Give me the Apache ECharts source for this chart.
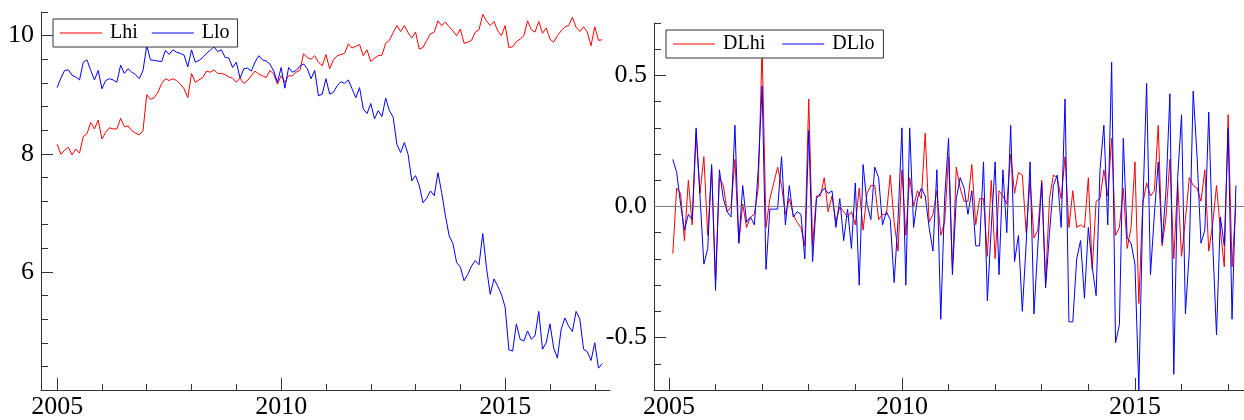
<!DOCTYPE html>
<html>
<head>
<meta charset="utf-8">
<script src="https://cdn.jsdelivr.net/npm/echarts@6/dist/echarts.min.js"></script>
<style>
html,body{margin:0;padding:0;background:#fff;}
#c{width:1244px;height:420px;}
</style>
</head>
<body>
<div id="c"></div>
<script>
// ---- data (monthly, starting Jan 2005) ----
const startYear = 2005;
const Lhi = [8.16,7.99,8.06,8.11,7.98,8.08,8.01,8.29,8.34,8.53,8.42,8.57,8.25,8.36,8.44,8.42,8.42,8.60,8.46,8.47,8.39,8.35,8.32,8.39,
9.00,8.92,8.95,9.04,9.19,9.27,9.24,9.27,9.24,9.18,9.10,8.95,9.36,9.21,9.25,9.29,9.40,9.38,9.42,9.36,9.36,9.34,9.30,9.28,
9.21,9.28,9.19,9.24,9.32,9.40,9.35,9.32,9.29,9.41,9.35,9.18,9.32,9.21,9.32,9.32,9.38,9.41,9.69,9.63,9.60,9.66,9.55,9.49,
9.68,9.44,9.59,9.66,9.68,9.70,9.86,9.79,9.82,9.85,9.66,9.76,9.56,9.62,9.66,9.67,9.87,9.92,10.05,10.17,10.07,10.17,10.05,9.96,
10.06,9.77,9.80,9.92,10.03,10.06,10.25,10.17,10.23,10.15,10.08,10.00,10.11,9.87,9.89,9.92,10.06,10.10,10.36,10.25,10.17,10.24,10.08,10.00,
10.17,9.80,9.81,9.90,9.94,10.00,10.25,10.10,10.06,10.24,10.04,10.13,9.94,9.89,10.00,10.08,10.15,10.17,10.31,10.14,10.07,10.15,10.06,9.83,
10.15,9.92,9.93];
const Llo = [9.12,9.28,9.41,9.42,9.33,9.30,9.25,9.55,9.59,9.41,9.25,9.41,9.10,9.24,9.27,9.25,9.21,9.50,9.36,9.44,9.38,9.34,9.27,9.41,
9.83,9.59,9.58,9.57,9.56,9.75,9.68,9.76,9.72,9.70,9.67,9.47,9.76,9.55,9.58,9.63,9.70,9.75,9.81,9.73,9.76,9.63,9.62,9.46,
9.55,9.28,9.44,9.45,9.40,9.55,9.66,9.59,9.57,9.52,9.40,9.21,9.46,9.11,9.46,9.38,9.41,9.48,9.52,9.44,9.27,9.41,8.98,9.01,
9.27,9.01,9.04,9.15,9.22,9.19,9.25,9.10,8.95,9.12,8.76,8.68,8.85,8.59,8.73,8.63,8.94,8.73,8.62,8.16,8.02,8.19,7.99,7.54,
7.63,7.46,7.17,7.25,7.37,7.29,7.68,7.34,6.95,6.61,6.48,6.16,6.08,5.85,5.96,6.10,6.19,6.12,6.65,6.07,5.62,5.88,5.76,5.62,
5.40,4.68,4.66,5.12,4.86,4.83,5.00,4.86,4.92,5.33,4.69,4.80,5.12,4.71,4.54,5.03,5.22,5.08,4.99,5.33,5.20,4.69,4.65,4.50,
4.80,4.37,4.45];
// monthly differences, starting Feb 2005
const DLhi = [-0.18,0.07,0.05,-0.13,0.10,-0.07,0.28,0.05,0.19,-0.11,0.15,-0.28,0.11,0.08,-0.02,0.00,0.18,-0.14,0.01,-0.08,-0.04,-0.03,0.07,
0.61,-0.08,0.03,0.09,0.15,0.08,-0.03,0.03,-0.03,-0.06,-0.08,-0.15,0.41,-0.15,0.04,0.04,0.11,-0.02,0.04,-0.06,0.00,-0.02,-0.04,-0.02,
-0.07,0.07,-0.09,0.05,0.08,0.08,-0.05,-0.03,-0.03,0.12,-0.06,-0.17,0.14,-0.11,0.11,0.00,0.06,0.03,0.28,-0.06,-0.03,0.06,-0.11,-0.06,
0.19,-0.24,0.15,0.07,0.02,0.02,0.16,-0.07,0.03,0.03,-0.19,0.10,-0.20,0.06,0.04,0.01,0.20,0.05,0.13,0.12,-0.10,0.10,-0.12,-0.09,
0.10,-0.29,0.03,0.12,0.11,0.03,0.19,-0.08,0.06,-0.08,-0.07,-0.08,0.11,-0.24,0.02,0.03,0.14,0.04,0.26,-0.11,-0.08,0.07,-0.16,-0.08,
0.17,-0.37,0.01,0.09,0.04,0.06,0.31,-0.15,-0.04,0.18,-0.20,0.09,-0.19,-0.05,0.11,0.08,0.07,0.02,0.14,-0.17,-0.07,0.08,-0.09,-0.23,
0.35,-0.23,0.01];
const DLlo = [0.18,0.13,0.01,-0.09,-0.03,-0.05,0.30,0.04,-0.22,-0.16,0.16,-0.32,0.14,0.03,-0.02,-0.04,0.31,-0.14,0.08,-0.06,-0.04,-0.07,0.14,
0.46,-0.24,-0.01,-0.01,-0.01,0.19,-0.07,0.08,-0.04,-0.02,-0.03,-0.20,0.29,-0.21,0.03,0.05,0.07,0.05,0.06,-0.08,0.03,-0.13,-0.01,-0.16,
0.09,-0.30,0.16,0.01,-0.05,0.15,0.11,-0.07,-0.02,-0.05,-0.29,-0.05,0.30,-0.30,0.30,-0.08,0.03,0.07,0.04,-0.08,-0.17,0.14,-0.43,0.03,
0.26,-0.26,0.03,0.11,0.07,-0.03,0.06,-0.15,-0.15,0.17,-0.36,-0.08,0.17,-0.26,0.14,-0.10,0.31,-0.21,-0.11,-0.40,-0.14,0.17,-0.41,-0.15,
0.09,-0.31,-0.10,0.08,0.12,-0.08,0.41,-0.44,-0.44,-0.20,-0.13,-0.35,-0.08,-0.23,-0.34,0.14,0.31,-0.07,0.55,-0.52,-0.45,0.26,-0.12,-0.14,
-0.22,-0.70,-0.02,0.47,-0.26,-0.03,0.17,-0.14,0.06,0.43,-0.64,0.11,0.35,-0.41,-0.17,0.44,0.19,-0.14,-0.09,0.36,-0.13,-0.49,-0.04,-0.15,
0.30,-0.43,0.08];
// tick values / labels
const yearLabels = [2005, 2010, 2015];
const yearMinor = [2006, 2007, 2008, 2009, 2011, 2012, 2013, 2014, 2016, 2017];
const leftYLabels = [6, 8, 10];
const leftYMajor = [4, 6, 8, 10];
const leftYMinor = [4.4, 4.8, 5.2, 5.6, 6.4, 6.8, 7.2, 7.6, 8.4, 8.8, 9.2, 9.6, 10.4];
const rightYLabels = [-0.5, 0.0, 0.5];
const rightYMinor = [-0.7, -0.6, -0.4, -0.3, -0.2, -0.1, 0.1, 0.2, 0.3, 0.4, 0.6, 0.7];

const toPairs = (arr, offset) => arr.map((v, i) => [startYear + (i + offset) / 12, v]);

const FONT = 'Liberation Serif';
const AX = '#333';

function xAxes(gridIndex, min, max) {
  return [
    { type: 'value', gridIndex, min, max, position: 'bottom',
      axisLine: { show: true, onZero: false, lineStyle: { color: AX, width: 1 } },
      axisTick: { show: true, inside: true, length: 12, customValues: yearLabels, lineStyle: { color: AX } },
      axisLabel: { show: true, customValues: yearLabels, margin: 4, color: '#000', fontFamily: FONT, fontSize: 26,
                   formatter: v => String(Math.round(v)) },
      splitLine: { show: false } },
    { type: 'value', gridIndex, min, max, position: 'bottom',
      axisLine: { show: false, onZero: false },
      axisTick: { show: true, inside: true, length: 6, customValues: yearMinor, lineStyle: { color: AX } },
      axisLabel: { show: false }, splitLine: { show: false } }
  ];
}
function yAxes(gridIndex, min, max, labels, major, minor, fmt) {
  return [
    { type: 'value', gridIndex, min, max, position: 'left',
      axisLine: { show: true, onZero: false, lineStyle: { color: AX, width: 1 } },
      axisTick: { show: true, inside: true, length: 12, customValues: major, lineStyle: { color: AX } },
      axisLabel: { show: true, customValues: labels, margin: 7, color: '#000', fontFamily: FONT, fontSize: 26, formatter: fmt },
      splitLine: { show: false } },
    { type: 'value', gridIndex, min, max, position: 'left', offset: 0,
      axisLine: { show: false, onZero: false },
      axisTick: { show: true, inside: true, length: 7, customValues: minor, lineStyle: { color: AX } },
      axisLabel: { show: false }, splitLine: { show: false } }
  ];
}

const legendCommon = {
  orient: 'horizontal', icon: 'rect', itemWidth: 42, itemHeight: 1, itemGap: 14,
  borderColor: '#333', borderWidth: 1, borderRadius: 0, backgroundColor: '#fff',
  textStyle: { fontFamily: FONT, fontSize: 20, color: '#000', padding: [0, 0, 0, 3] },
  selectedMode: false
};

const chart = echarts.init(document.getElementById('c'), null, { renderer: 'canvas' });
chart.setOption({
  animation: false,
  backgroundColor: '#fff',
  grid: [
    { left: 41, top: 12, width: 569, height: 378 },
    { left: 654, top: 23, width: 590, height: 367 }
  ],
  xAxis: [...xAxes(0, 2004.64, 2017.34), ...xAxes(1, 2004.68, 2017.34)],
  yAxis: [
    ...yAxes(0, 4, 10.4, leftYLabels, leftYMajor, leftYMinor, v => String(Math.round(v))),
    ...yAxes(1, -0.7, 0.7, rightYLabels, rightYLabels, rightYMinor, v => v.toFixed(1))
  ],
  legend: [
    Object.assign({}, legendCommon, { data: ['Lhi', 'Llo'], left: 53, top: 19, padding: [4, 8, 4, 7] }),
    Object.assign({}, legendCommon, { data: ['DLhi', 'DLlo'], left: 666, top: 30, padding: [4, 9, 4, 7], itemGap: 17 })
  ],
  series: [
    { name: 'Lhi', type: 'line', xAxisIndex: 0, yAxisIndex: 0, data: toPairs(Lhi, 0),
      symbol: 'none', showSymbol: false, lineStyle: { color: '#ff0000', width: 1 }, itemStyle: { color: '#ff0000' } },
    { name: 'Llo', type: 'line', xAxisIndex: 0, yAxisIndex: 0, data: toPairs(Llo, 0),
      symbol: 'none', showSymbol: false, lineStyle: { color: '#0000ff', width: 1 }, itemStyle: { color: '#0000ff' } },
    { name: 'DLhi', type: 'line', xAxisIndex: 2, yAxisIndex: 2, data: toPairs(DLhi, 1),
      symbol: 'none', showSymbol: false, lineStyle: { color: '#ff0000', width: 1 }, itemStyle: { color: '#ff0000' },
      markLine: { silent: true, symbol: 'none', label: { show: false }, animation: false,
                  lineStyle: { color: '#808080', width: 1, type: 'solid' }, data: [{ yAxis: 0 }] } },
    { name: 'DLlo', type: 'line', xAxisIndex: 2, yAxisIndex: 2, data: toPairs(DLlo, 1),
      symbol: 'none', showSymbol: false, lineStyle: { color: '#0000ff', width: 1 }, itemStyle: { color: '#0000ff' } }
  ]
});
</script>
</body>
</html>
